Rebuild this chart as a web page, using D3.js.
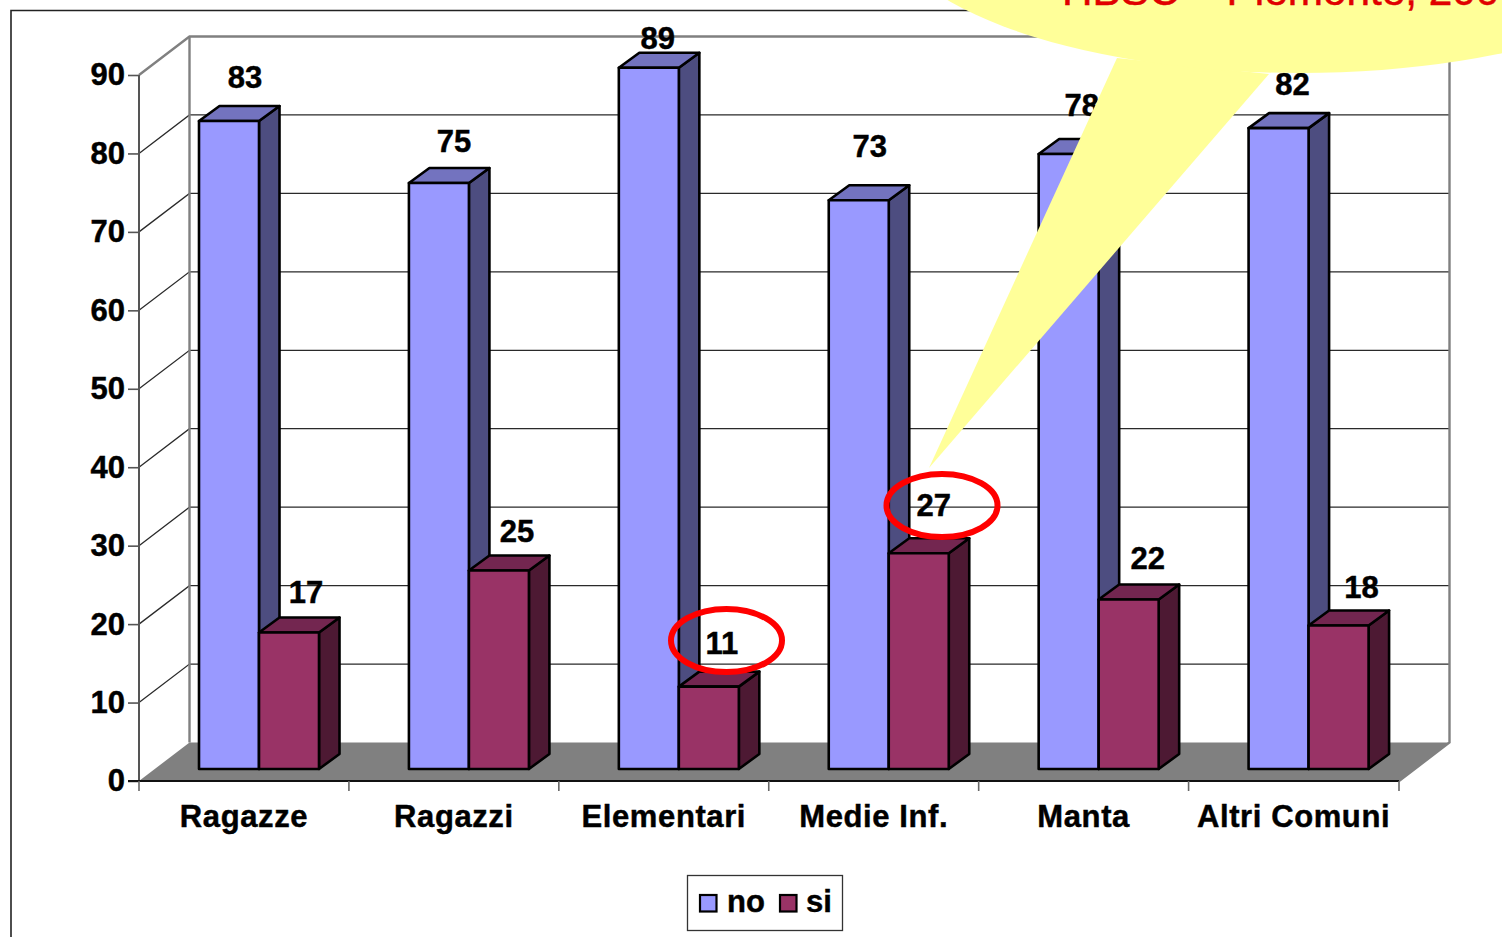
<!DOCTYPE html>
<html><head><meta charset="utf-8">
<script src="https://cdn.jsdelivr.net/npm/d3@7/dist/d3.min.js"></script>
<style>html,body{margin:0;padding:0;background:#fff;overflow:hidden}svg{display:block}
text{font-family:"Liberation Sans",Arial,sans-serif}</style></head>
<body><svg id="c" width="1502" height="937"></svg>
<script>
const categories = ["Ragazze","Ragazzi","Elementari","Medie Inf.","Manta","Altri Comuni"];
const seriesNames = ["no","si"];
const noValues = [82.6,74.7,89.4,72.5,78.4,81.7];
const siValues = [17.4,25.3,10.5,27.5,21.6,18.3];
const noLabels = ["83","75","89","73","78","82"];
const siLabels = ["17","25","11","27","22","18"];
const yTicks = [0,10,20,30,40,50,60,70,80,90];
const calloutText = "HBSC – Piemonte, 2006";

const svg = d3.select("#c");
const y = d3.scaleLinear().domain([0,90]).range([781,75]);
const x0 = d3.scaleBand().domain(categories).range([139,1398.5]);
const x1 = d3.scaleBand().domain(seriesNames).range([60,180]);
const wallDx = 50.5, wallDy = -38.5, barDx = 20.5, barDy = -15, barBase = 12;
const colors = {
  no:{front:"#9999FF",top:"#7373BF",side:"#4D4D80"},
  si:{front:"#993366",top:"#732650",side:"#4D1933"}
};
const poly = pts => pts.map(p=>p.join(",")).join(" ");
const heavy = sel => sel.attr("stroke","#000").attr("stroke-width",0.45);

// slide frame
svg.append("path").attr("d","M11,937V10.5H1100").attr("fill","none").attr("stroke","#222").attr("stroke-width",1.6);

// walls and floor
const xL = 139, xR = 1399;
svg.append("polygon").attr("points",poly([[xL,y(0)],[xR,y(0)],[xR+wallDx,y(0)+wallDy],[xL+wallDx,y(0)+wallDy]])).attr("fill","#808080");
const grid = svg.append("g");
yTicks.slice(1).forEach(t=>{
  const top = t===90;
  grid.append("path").attr("d",`M${xL},${y(t)}L${xL+wallDx},${y(t)+wallDy}H${xR+wallDx}`)
    .attr("fill","none").attr("stroke",top?"#808080":"#2a2a2a").attr("stroke-width",top?2.4:1.3);
});
svg.append("path").attr("d",`M${xL+wallDx},${y(90)+wallDy}V${y(0)+wallDy}`).attr("stroke","#808080").attr("stroke-width",2.4);
svg.append("path").attr("d",`M${xR+wallDx},${y(90)+wallDy}V${y(0)+wallDy}L${xR},${y(0)}`).attr("fill","none").attr("stroke","#808080").attr("stroke-width",2.4);

// axes
const yAxis = d3.axisLeft(y).tickValues(yTicks).tickSize(11).tickPadding(3).tickFormat(d3.format("d"));
const gy = svg.append("g").attr("transform",`translate(${xL},0)`).call(yAxis);
gy.select(".domain").attr("stroke","#555").attr("stroke-width",2).attr("d",`M0,${y(90)}V${y(0)}`);
gy.selectAll(".tick line").attr("stroke","#555").attr("stroke-width",1.6);
gy.selectAll("text").attr("font-size",31).attr("font-weight","bold").attr("fill","#000").attr("font-family","Liberation Sans").call(heavy);

const xAxis = d3.axisBottom(x0).tickSize(0).tickPadding(24);
const gx = svg.append("g").attr("transform",`translate(0,${y(0)})`).call(xAxis);
gx.select(".domain").attr("stroke","#111").attr("stroke-width",2).attr("d",`M${xL-11},0H${xR}`);
gx.selectAll("text").attr("font-size",31).attr("font-weight","bold").attr("fill","#000")
  .attr("letter-spacing",0.6).attr("font-family","Liberation Sans").call(heavy);
svg.append("g").selectAll("line").data([...categories.map(c=>x0(c)),xR]).join("line")
  .attr("x1",d=>d).attr("x2",d=>d).attr("y1",y(0)).attr("y2",y(0)+10).attr("stroke","#666").attr("stroke-width",1.6);

// bars
const rows = [];
categories.forEach((c,i)=>{
  rows.push({c,s:"no",v:noValues[i]});
  rows.push({c,s:"si",v:siValues[i]});
});
const h = d => y(0)-y(d);
const bars = svg.append("g").attr("stroke","#000").attr("stroke-width",2.6).attr("stroke-linejoin","round");
rows.forEach(d=>{
  const l = x0(d.c)+x1(d.s), r = l+x1.bandwidth(), b = y(0)-barBase, t = b-h(d.v), col = colors[d.s];
  const g = bars.append("g");
  g.append("polygon").attr("points",poly([[r,b],[r+barDx,b+barDy],[r+barDx,t+barDy],[r,t]])).attr("fill",col.side);
  g.append("polygon").attr("points",poly([[l,t],[r,t],[r+barDx,t+barDy],[l+barDx,t+barDy]])).attr("fill",col.top);
  g.append("rect").attr("x",l).attr("y",t).attr("width",r-l).attr("height",b-t).attr("fill",col.front);
});

// data labels, each nudged clear of its neighbours as in the source chart
const noNudge = [[16,-44],[15,-42],[9,-30],[11,-54],[13,-49],[14,-44]];
const siNudge = [[17,-41],[18,-40],[13,-44],[15,-48],[19,-42],[23,-39]];
const lab = svg.append("g").attr("font-size",31).attr("font-weight","bold").attr("text-anchor","middle").attr("fill","#000").call(heavy);
categories.forEach((c,i)=>{
  [["no",noValues,noLabels,noNudge],["si",siValues,siLabels,siNudge]].forEach(([s,vals,labs,n])=>{
    const cx = x0(c)+x1(s)+x1.bandwidth()/2, t = y(0)-barBase-h(vals[i]);
    lab.append("text").attr("x",cx+n[i][0]).attr("y",t+n[i][1]).attr("dy","0.36em").text(labs[i]);
  });
});

// highlight rings around two labels
const rings = [[726.5,640.5],[942,505.5]];
svg.append("g").selectAll("ellipse").data(rings).join("ellipse")
  .attr("cx",d=>d[0]).attr("cy",d=>d[1]).attr("rx",55.5).attr("ry",31.5)
  .attr("fill","none").attr("stroke","#FF0000").attr("stroke-width",6);

// legend
const lg = svg.append("g");
lg.append("rect").attr("x",687.5).attr("y",875.5).attr("width",155).attr("height",55).attr("fill","#fff").attr("stroke","#333").attr("stroke-width",1.3);
[["no",699,727],["si",779,806]].forEach(([s,sx,tx])=>{
  lg.append("rect").attr("x",sx+1).attr("y",895).attr("width",16.5).attr("height",16.5).attr("fill",colors[s].front).attr("stroke","#000").attr("stroke-width",2.2);
  lg.append("text").attr("x",tx).attr("y",912).attr("font-size",31).attr("font-weight","bold").call(heavy).text(s);
});

// callout
svg.append("path")
  .attr("d","M1117,58L929,468L1269,74Z").attr("fill","#FFFF99");
svg.append("ellipse").attr("cx",1300).attr("cy",-87).attr("rx",420).attr("ry",160).attr("fill","#FFFF99");
svg.append("text").attr("x",1062).attr("y",5).attr("font-size",42.3).attr("fill","#E00000").attr("stroke","#E00000").attr("stroke-width",0.5).text(calloutText);
</script></body></html>
